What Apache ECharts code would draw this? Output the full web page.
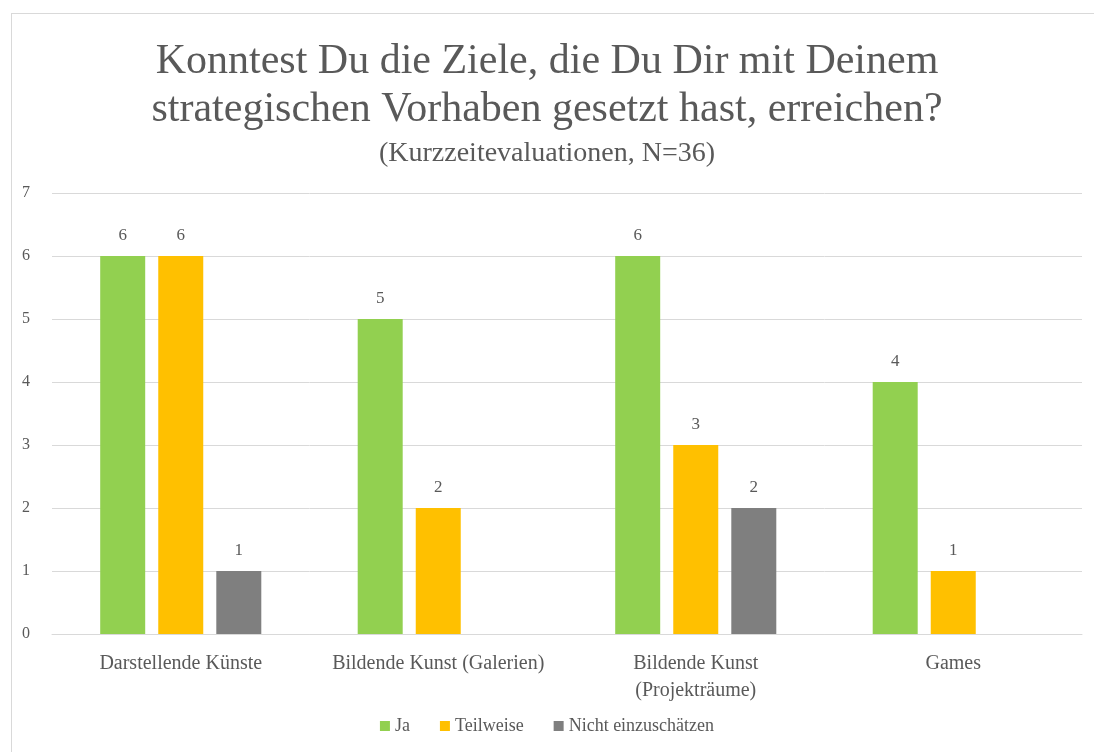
<!DOCTYPE html>
<html>
<head>
<meta charset="utf-8">
<script src="https://cdn.jsdelivr.net/npm/echarts@6/dist/echarts.min.js"></script>
<style>
  html, body { margin: 0; padding: 0; background: #fff; }
  .frame {
    position: absolute; left: 11px; top: 13px; width: 1083px; height: 739px;
    border-left: 1px solid #d9d9d9; border-top: 1px solid #d9d9d9;
  }
  #chart { position: absolute; left: -12px; top: -14px; width: 1094px; height: 752px; }
</style>
</head>
<body>
<div class="frame"><div id="chart"></div></div>
<script>
const categories = ['Darstellende Künste', 'Bildende Kunst (Galerien)', 'Bildende Kunst\n(Projekträume)', 'Games']
const ja = [6, 5, 6, 4]
const teilweise = [6, 2, 3, 1]
const nicht = [1, null, 2, null]

const font = '"Liberation Serif", "DejaVu Serif", serif'
const myChart = echarts.init(document.getElementById('chart'))

const label = {
  show: true,
  position: 'top',
  distance: 12,
  color: '#595959',
  fontFamily: font,
  fontSize: 17,
}

myChart.setOption({
  title: {
    text: 'Konntest Du die Ziele, die Du Dir mit Deinem\nstrategischen Vorhaben gesetzt hast, erreichen?',
    subtext: '(Kurzzeitevaluationen, N=36)',
    left: 'center',
    top: 33,
    itemGap: 6,
    textStyle: {
      color: '#595959',
      fontFamily: font,
      fontWeight: 'normal',
      fontSize: 42,
      lineHeight: 48,
    },
    subtextStyle: {
      color: '#595959',
      fontFamily: font,
      fontSize: 28,
    },
  },
  legend: {
    bottom: 12,
    left: 'center',
    icon: 'rect',
    itemWidth: 10,
    itemHeight: 10,
    itemGap: 30,
    textStyle: {
      color: '#595959',
      fontFamily: font,
      fontSize: 18,
    },
  },
  grid: {
    left: 52,
    right: 12,
    top: 193,
    bottom: 118,
  },
  xAxis: {
    type: 'category',
    data: categories,
    axisLine: { lineStyle: { color: '#d9d9d9' } },
    axisTick: { show: false },
    axisLabel: {
      interval: 0,
      color: '#595959',
      fontFamily: font,
      fontSize: 20,
      margin: 16,
      lineHeight: 27,
    },
  },
  yAxis: {
    type: 'value',
    min: 0,
    max: 7,
    interval: 1,
    axisLabel: {
      color: '#595959',
      fontFamily: font,
      fontSize: 16,
      margin: 22,
    },
    splitLine: { lineStyle: { color: '#d9d9d9' } },
  },
  series: [
    {
      name: 'Ja',
      type: 'bar',
      data: ja,
      barWidth: 45,
      barGap: '29%',
      itemStyle: { color: '#92d050' },
      label,
    },
    {
      name: 'Teilweise',
      type: 'bar',
      data: teilweise,
      barWidth: 45,
      itemStyle: { color: '#ffc000' },
      label,
    },
    {
      name: 'Nicht einzuschätzen',
      type: 'bar',
      data: nicht,
      barWidth: 45,
      itemStyle: { color: '#7f7f7f' },
      label,
    },
  ],
})
</script>
</body>
</html>
